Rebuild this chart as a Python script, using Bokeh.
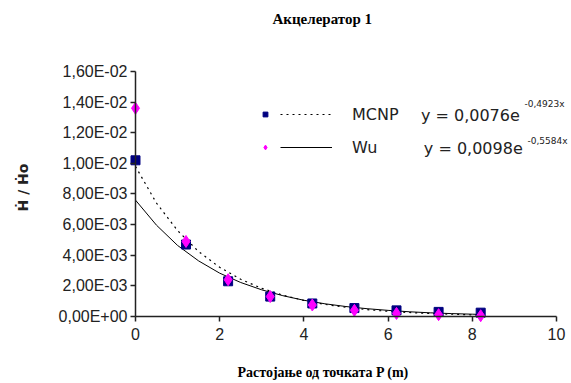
import math
from bokeh.plotting import figure
from bokeh.models import Label, Legend, LegendItem, FixedTicker, Range1d
from bokeh.embed import file_html
from bokeh.resources import INLINE

# --- data ---
x_pts = [0, 1.2, 2.2, 3.2, 4.2, 5.2, 6.2, 7.2, 8.2]
mcnp = [1.02e-2, 4.7e-3, 2.3e-3, 1.3e-3, 0.85e-3, 0.55e-3, 0.4e-3, 0.3e-3, 0.25e-3]
wu = [1.36e-2, 4.9e-3, 2.4e-3, 1.3e-3, 0.75e-3, 0.4e-3, 0.2e-3, 0.12e-3, 0.05e-3]

x_fit = [0, 0.5, 1, 1.5, 2, 2.5, 3, 3.5, 4, 4.5, 5, 5.5, 6, 6.5, 7, 7.5, 8, 8.2]
fit_solid = [7.6e-3, 5.96e-3, 4.64e-3, 3.63e-3, 2.83e-3, 2.22e-3, 1.74e-3, 1.36e-3, 1.06e-3,
             0.83e-3, 0.65e-3, 0.51e-3, 0.40e-3, 0.31e-3, 0.24e-3, 0.19e-3, 0.15e-3, 0.135e-3]
fit_dotted = [9.8e-3, 7.40e-3, 5.61e-3, 4.24e-3, 3.21e-3, 2.43e-3, 1.84e-3, 1.39e-3, 1.05e-3,
              0.79e-3, 0.60e-3, 0.45e-3, 0.34e-3, 0.26e-3, 0.20e-3, 0.15e-3, 0.11e-3, 0.10e-3]

y_ticks = [0, 0.002, 0.004, 0.006, 0.008, 0.010, 0.012, 0.014, 0.016]
y_tick_labels = ["0,00E+00", "2,00E-03", "4,00E-03", "6,00E-03", "8,00E-03",
                 "1,00E-02", "1,20E-02", "1,40E-02", "1,60E-02"]
x_ticks = [0, 2, 4, 6, 8, 10]

title_text = "Акцелератор 1"
x_label = "Растојање од точката P (m)"
y_label = "\u1E22 / \u1E22o"
series_names = ["MCNP", "Wu"]
eq_main = ["y = 0,0076e", "y = 0,0098e"]
eq_sup = ["-0,4923x", "-0,5584x"]

W, H = 571, 381
p = figure(width=W, height=H, output_backend="svg", toolbar_location=None, title=None,
           x_range=Range1d(-3.2067, 10.357), y_range=Range1d(-0.0042449, 0.0206367),
           min_border_left=0, min_border_right=0, min_border_top=0, min_border_bottom=0)
p.outline_line_color = None
p.xgrid.visible = False
p.ygrid.visible = False
p.background_fill_color = "white"
p.border_fill_color = "white"

sans = "Liberation Sans"
dsans = "DejaVu Sans"
serif = "Liberation Serif"

p.xaxis.fixed_location = 0
p.yaxis.fixed_location = 0
p.xaxis.bounds = (0, 10)
p.yaxis.bounds = (0, 0.016)
p.yaxis.ticker = FixedTicker(ticks=y_ticks)
p.yaxis.major_label_overrides = {t: l for t, l in zip(y_ticks, y_tick_labels)}
p.xaxis.ticker = FixedTicker(ticks=x_ticks)
p.xaxis.major_label_overrides = {t: str(t) for t in x_ticks}
for ax in (p.xaxis, p.yaxis):
    ax.axis_line_color = "#222222"
    ax.axis_line_width = 1.5
    ax.major_tick_line_color = "#222222"
    ax.major_tick_line_width = 1.5
    ax.major_tick_out = 5
    ax.major_tick_in = 0
    ax.minor_tick_line_color = None
    ax.major_label_text_font = sans
    ax.major_label_text_font_size = "16px"
    ax.major_label_text_color = "#222222"
p.yaxis.major_label_standoff = 3
p.xaxis.major_label_standoff = 7

# titles inside the extended frame (frame covers the whole canvas)
p.add_layout(Label(x=272, y=H - 18, x_units="screen", y_units="screen", text=title_text,
                   text_font=serif, text_font_style="bold", text_font_size="15px",
                   text_baseline="middle", text_color="black"))
p.add_layout(Label(x=237, y=H - 372, x_units="screen", y_units="screen", text=x_label,
                   text_font=serif, text_font_style="bold", text_font_size="14px",
                   text_baseline="middle", text_color="black"))
p.add_layout(Label(x=22, y=H - 187, x_units="screen", y_units="screen", text=y_label,
                   angle=math.pi / 2, text_font=dsans, text_font_style="bold", text_font_size="14px",
                   text_align="center", text_baseline="middle", text_color="#222222"))

# trendlines
l_dot = p.line(x_fit, fit_dotted, line_color="black", line_width=1.2, line_dash="2 4")
l_sol = p.line(x_fit, fit_solid, line_color="black", line_width=1)
# points
s_m = p.scatter(x_pts, mcnp, marker="square", size=9, fill_color="#000080", line_color="#000080")
s_w = p.scatter(x_pts, wu, marker="diamond", size=12, fill_color="#FF00FF", line_color="#FF00FF")

leg_y = 159 + (H - 316)
leg_a = Legend(items=[LegendItem(label=" ", renderers=[s_m]), LegendItem(label=" ", renderers=[s_w])],
               location=(259, leg_y), glyph_width=12, glyph_height=20, label_height=20,
               spacing=13, padding=0, margin=0, border_line_color=None,
               background_fill_alpha=0, label_standoff=0, label_width=1)
leg_b = Legend(items=[LegendItem(label=series_names[0], renderers=[l_dot]),
                      LegendItem(label=series_names[1], renderers=[l_sol])],
               location=(280, leg_y), glyph_width=52, glyph_height=20, label_height=20,
               spacing=13, padding=0, margin=0, border_line_color=None,
               background_fill_alpha=0, label_standoff=20,
               label_text_font=dsans, label_text_font_size="16px", label_text_color="#222222")
p.add_layout(leg_a)
p.add_layout(leg_b)

# equation labels (data coordinates)
eq_x = [6.78, 6.85]
eq_y = [0.01313, 0.01097]
sup_x = [9.24, 9.31]
sup_y = [0.01391, 0.01149]
for i in range(2):
    p.add_layout(Label(x=eq_x[i], y=eq_y[i], text=eq_main[i], text_font=dsans, text_font_size="16px",
                       text_baseline="middle", text_color="#222222"))
    p.add_layout(Label(x=sup_x[i], y=sup_y[i], text=eq_sup[i], text_font=dsans, text_font_size="9px",
                       text_baseline="middle", text_color="#222222"))

open("out.html", "w").write(file_html(p, INLINE))
